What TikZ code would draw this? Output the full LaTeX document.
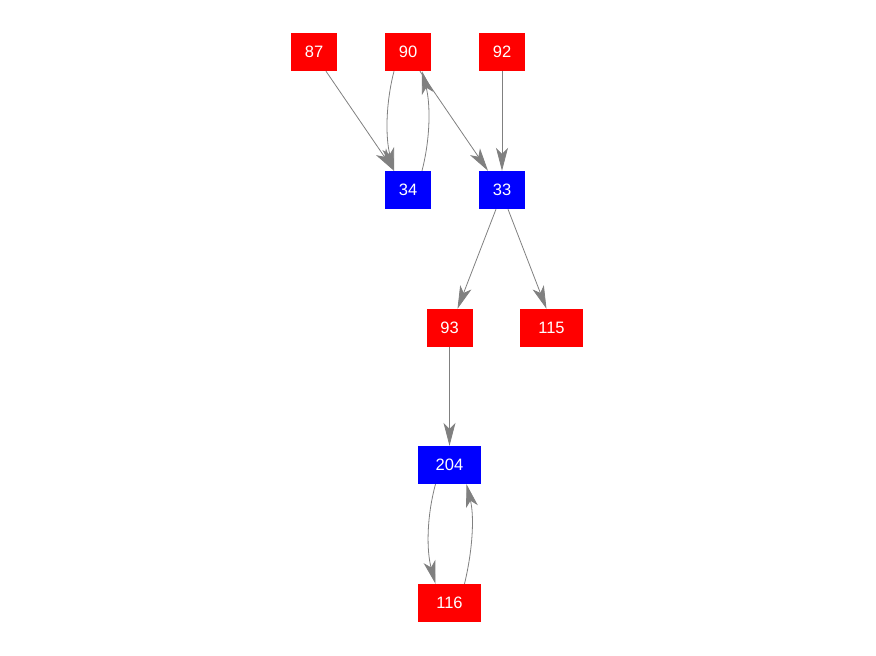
\documentclass[tikz,border=0pt]{standalone}
\usepackage{fontspec}
\setmainfont{Liberation Sans}
\usetikzlibrary{arrows.meta}
\definecolor{nred}{RGB}{255,0,0}
\definecolor{nblue}{RGB}{0,0,255}
\definecolor{egray}{RGB}{128,128,128}
\tikzset{
  box/.style={fill=#1, text=white, minimum height=38pt, inner sep=0pt, font=\fontsize{16.5}{16.5}\selectfont},
  narrow/.style={minimum width=46pt},
  wide/.style={minimum width=63pt},
  edge/.style={draw=egray, line width=0.8pt, -{Stealth[length=23pt,width=12pt,inset=6pt,fill=egray]}}
}
\begin{document}
\begin{tikzpicture}[x=1pt,y=-1pt]
\useasboundingbox (0,0) rectangle (876,656);
\node[box=nred,narrow] (n87) at (314,52) {87};
\node[box=nred,narrow] (n90) at (408,52) {90};
\node[box=nred,narrow] (n92) at (502,52) {92};
\node[box=nblue,narrow] (n34) at (408,190) {34};
\node[box=nblue,narrow] (n33) at (502,190) {33};
\node[box=nred,narrow] (n93) at (449.5,328) {93};
\node[box=nred,wide] (n115) at (551.5,328) {115};
\node[box=nblue,wide] (n204) at (449.5,465) {204};
\node[box=nred,wide] (n116) at (449.5,603) {116};

\draw[edge] ([xshift=12pt]n87.south) -- ([xshift=-14pt]n34.north);
\draw[edge] ([xshift=-14pt]n90.south) .. controls +(-8.5,33) and +(-8.5,-33) .. ([xshift=-14pt]n34.north);
\draw[edge] ([xshift=14pt]n34.north) .. controls +(8.5,-33) and +(8.5,33) .. ([xshift=14pt]n90.south);
\draw[edge] ([xshift=12pt]n90.south) -- ([xshift=-14pt]n33.north);
\draw[edge] (n92.south) -- (n33.north);
\draw[edge] ([xshift=-6pt]n33.south) -- ([xshift=8pt]n93.north);
\draw[edge] ([xshift=6pt]n33.south) -- ([xshift=-5pt]n115.north);
\draw[edge] (n93.south) -- (n204.north);
\draw[edge] ([xshift=-14pt]n204.south) .. controls +(-9,33) and +(-9,-33) .. ([xshift=-14pt]n116.north);
\draw[edge] ([xshift=15pt]n116.north) .. controls +(8,-33) and +(8,33) .. ([xshift=17pt]n204.south);
\end{tikzpicture}
\end{document}
